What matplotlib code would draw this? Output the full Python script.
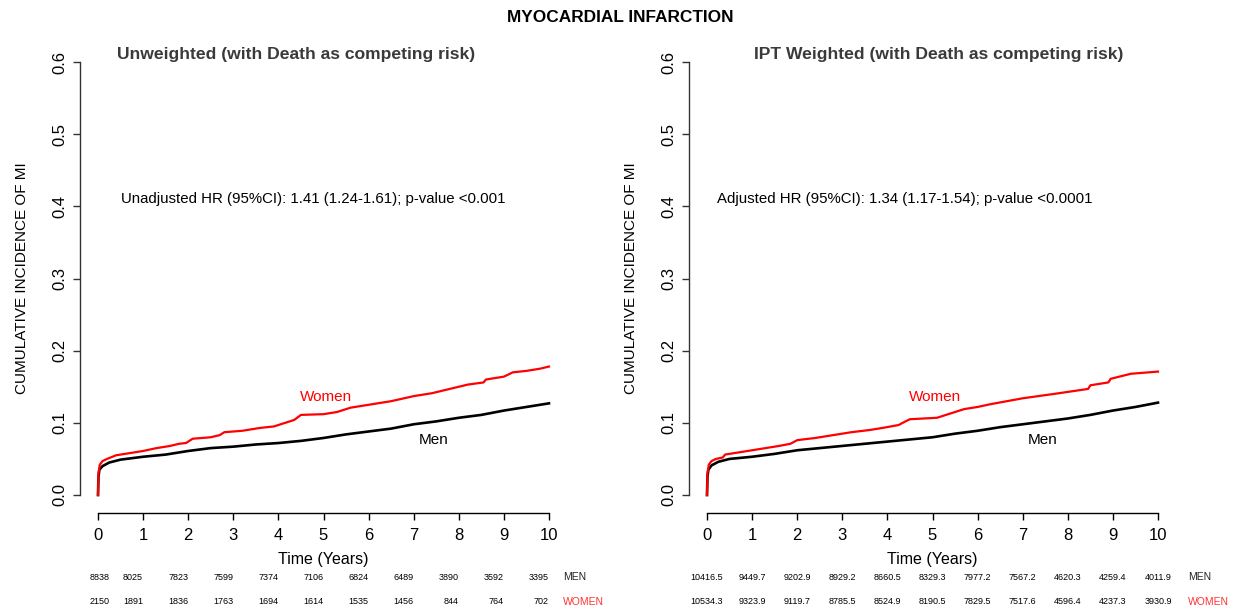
import matplotlib
matplotlib.use('Agg')
import matplotlib.pyplot as plt
import matplotlib.transforms as mtrans
import numpy as np

plt.rcParams['font.family'] = ['Liberation Sans', 'DejaVu Sans']
plt.rcParams['axes.linewidth'] = 1

# --- data ---
years = list(range(0, 11))

men_t = [0, 0.01, 0.03, 0.1, 0.25, 0.5, 1.0, 1.5, 2.0, 2.5, 3.0, 3.5, 4.0,
         4.5, 5.0, 5.5, 6.0, 6.5, 7.0, 7.5, 8.0, 8.5, 9.0, 9.5, 10.0]
men_unw = [0, 0.025, 0.035, 0.040, 0.045, 0.049, 0.053, 0.056, 0.061, 0.065,
           0.067, 0.070, 0.072, 0.075, 0.079, 0.084, 0.088, 0.092, 0.098,
           0.102, 0.107, 0.111, 0.117, 0.122, 0.127]
men_ipt = [0, 0.025, 0.035, 0.041, 0.046, 0.050, 0.053, 0.057, 0.062, 0.065,
           0.068, 0.071, 0.074, 0.077, 0.080, 0.085, 0.089, 0.094, 0.098,
           0.102, 0.106, 0.111, 0.117, 0.122, 0.128]

women_unw_t = [0, 0.01, 0.04, 0.1, 0.2, 0.4, 0.7, 1.0, 1.3, 1.6, 1.8, 1.95,
               2.1, 2.5, 2.7, 2.8, 3.2, 3.6, 3.9, 4.2, 4.35, 4.5, 5.0, 5.3,
               5.6, 6.0, 6.5, 7.0, 7.4, 7.8, 8.2, 8.55, 8.6, 9.0, 9.2, 9.5,
               9.8, 10.0]
women_unw = [0, 0.03, 0.042, 0.047, 0.050, 0.055, 0.058, 0.061, 0.065, 0.068,
             0.071, 0.072, 0.078, 0.080, 0.083, 0.087, 0.089, 0.093, 0.095,
             0.101, 0.104, 0.111, 0.112, 0.115, 0.121, 0.125, 0.130, 0.137,
             0.141, 0.147, 0.153, 0.156, 0.160, 0.164, 0.170, 0.172, 0.175,
             0.178]

women_ipt_t = [0, 0.01, 0.04, 0.1, 0.2, 0.35, 0.4, 0.7, 1.0, 1.3, 1.6, 1.85,
               2.0, 2.4, 2.8, 3.2, 3.6, 3.9, 4.25, 4.4, 4.5, 5.1, 5.4, 5.7,
               6.0, 6.3, 7.0, 7.8, 8.45, 8.5, 8.9, 8.95, 9.4, 9.8, 10.0]
women_ipt = [0, 0.03, 0.042, 0.047, 0.050, 0.052, 0.056, 0.059, 0.062, 0.065,
             0.068, 0.071, 0.076, 0.079, 0.083, 0.087, 0.090, 0.093, 0.097,
             0.102, 0.105, 0.107, 0.113, 0.119, 0.122, 0.126, 0.134, 0.141,
             0.147, 0.152, 0.156, 0.161, 0.168, 0.170, 0.171]

risk_men_unw = ['8838', '8025', '7823', '7599', '7374', '7106', '6824', '6489',
                '3890', '3592', '3395']
risk_women_unw = ['2150', '1891', '1836', '1763', '1694', '1614', '1535',
                  '1456', '844', '764', '702']
risk_men_ipt = ['10416.5', '9449.7', '9202.9', '8929.2', '8660.5', '8329.3',
                '7977.2', '7567.2', '4620.3', '4259.4', '4011.9']
risk_women_ipt = ['10534.3', '9323.9', '9119.7', '8785.5', '8524.9', '8190.5',
                  '7829.5', '7517.6', '4596.4', '4237.3', '3930.9']

titles = ['Unweighted (with Death as competing risk)',
          'IPT Weighted (with Death as competing risk)']
hr_text = ['Unadjusted HR (95%CI): 1.41 (1.24-1.61); p-value <0.001',
           'Adjusted HR (95%CI): 1.34 (1.17-1.54); p-value <0.0001']

W, H = 1235, 612
fig = plt.figure(figsize=(W / 100, H / 100), dpi=100)

panels = [
    dict(left=98, men=men_unw, wt=women_unw_t, w=women_unw,
         rm=risk_men_unw, rw=risk_women_unw, ha='right', hrx=0.5,
         tx=117, gx=10.31),
    dict(left=707, men=men_ipt, wt=women_ipt_t, w=women_ipt,
         rm=risk_men_ipt, rw=risk_women_ipt, ha='center', hrx=0.22,
         tx=754, gx=10.66),
]

for i, p in enumerate(panels):
    ax = fig.add_axes([p['left'] / W, 1 - 495 / H, 451 / W, 433 / H])
    ax.plot(men_t, p['men'], color='black', lw=1.9, clip_on=False,
            solid_joinstyle='round')
    ax.plot(p['wt'], p['w'], color='#ff0000', lw=1.6, clip_on=False)
    ax.set_xlim(0, 10)
    ax.set_ylim(0, 0.6)
    for s in ['top', 'right']:
        ax.spines[s].set_visible(False)
    ax.spines['left'].set_position(('outward', 13))
    ax.spines['bottom'].set_position(('outward', 13))
    ax.spines['left'].set_bounds(0, 0.6)
    ax.spines['bottom'].set_bounds(0, 10)
    ax.spines['left'].set_color('#333333')
    ax.set_xticks(years)
    ax.set_yticks(np.arange(0, 0.61, 0.1))
    ax.set_yticklabels(['%.1f' % v for v in np.arange(0, 0.61, 0.1)],
                       rotation=90, va='center')
    ax.tick_params(axis='both', labelsize=12, length=5, width=1)
    ax.tick_params(axis='x', pad=6)
    ax.tick_params(axis='y', pad=4, color='#333333')
    ax.set_xlabel('Time (Years)', fontsize=11.5, labelpad=6)
    ax.set_ylabel('CUMULATIVE INCIDENCE OF MI', fontsize=11, labelpad=17)

    fig.text(p['tx'] / W, 1 - 55 / H, titles[i], ha='left', va='center',
             fontsize=12.6, fontweight='bold', color='#3a3a3a')
    ax.text(p['hrx'], 0.41, hr_text[i], ha='left', va='center',
            fontsize=10.8)
    ax.text(5.05, 0.136, 'Women', color='#ff0000', fontsize=11,
            ha='center', va='center')
    ax.text(7.45, 0.076, 'Men', color='black', fontsize=11,
            ha='center', va='center')

    tr = mtrans.blended_transform_factory(ax.transData, fig.transFigure)
    for k, x in enumerate(years):
        ha = p['ha']
        dx = 0.25 if (ha == 'right' and k == 0) else 0
        ax.text(x + dx, 1 - 577 / H, p['rm'][k], transform=tr, ha=ha,
                va='center', fontsize=6.5, clip_on=False)
        ax.text(x + dx, 1 - 602 / H, p['rw'][k], transform=tr, ha=ha,
                va='center', fontsize=6.5, clip_on=False)
    ax.text(p['gx'], 1 - 577 / H, 'MEN', transform=tr, ha='left',
            va='center', fontsize=7.5, color='#222222')
    ax.text(p['gx'], 1 - 602 / H, 'WOMEN', transform=tr, ha='left',
            va='center', fontsize=7.5, color='#ff3333')

fig.text(620 / W, 1 - 17 / H, 'MYOCARDIAL INFARCTION', ha='center',
         va='center', fontsize=12.4, fontweight='bold')

fig.savefig('out.png', dpi=100)
